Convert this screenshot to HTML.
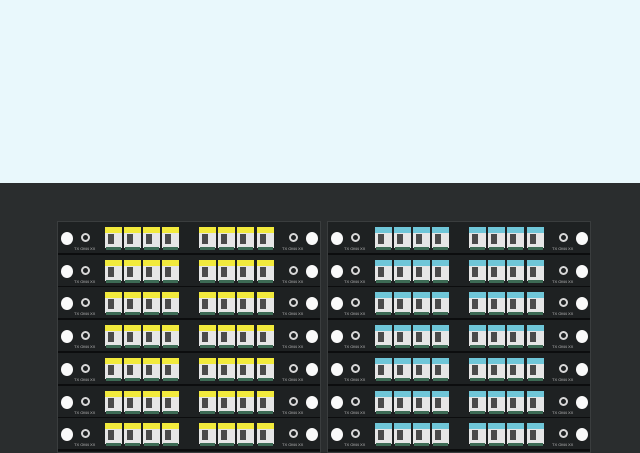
<!DOCTYPE html>
<html><head><style>
html,body{margin:0;padding:0}
body{width:640px;height:441px;overflow:hidden;background:#2a2d2e;position:relative;font-family:"Liberation Sans",sans-serif}
#top{position:absolute;left:0;top:0;width:640px;height:183px;background:#e9f8fc}
.panel{position:absolute;top:221px;width:262px;height:230px;background:#151718;border:1px solid #3a3d3e}
.row{position:absolute;left:0;width:262px;height:31px;background:#1e2122;border-bottom:2px solid #0c0d0e}
.c{position:absolute;width:12px;height:13px;border-radius:50%;background:#fafafa;top:10px}
.r{position:absolute;width:7px;height:7px;border-radius:50%;border:2px solid #d8d8d8;top:11px;box-sizing:border-box;width:9px;height:9px}
.p{position:absolute;top:5px;width:17px;height:21px;background:#e6e6e6}
.p i{position:absolute;left:0;top:0;width:17px;height:6px}
.p b{position:absolute;left:3px;top:7px;width:6px;height:10px;background:#4a4a4a}
.p u{position:absolute;left:1px;top:20px;width:15px;height:3px;background:#3d6b55}
.t{position:absolute;top:24px;font-size:4px;color:#bbb;white-space:nowrap}
</style></head><body>
<div id="top"></div>
<div class="panel" id="L" style="left:57px"></div>
<div class="panel" id="R" style="left:327px"></div>
<script>
function build(id,col){
 var P=document.getElementById(id),h='';
 for(var k=0;k<7;k++){
  h+='<div class="row" style="top:'+(k*32.7)+'px">';
  h+='<div class="c" style="left:3px"></div><div class="r" style="left:23px"></div><div class="t" style="left:16px">TX OM4 XX</div>';
  var xs=[47,66,85,104,141,160,179,199];
  for(var j=0;j<8;j++)h+='<div class="p" style="left:'+xs[j]+'px"><i style="background:'+col+'"></i><b></b><u></u></div>';
  h+='<div class="r" style="left:231px"></div><div class="c" style="left:248px"></div><div class="t" style="left:224px">TX OM4 XX</div>';
  h+='</div>';
 }
 P.innerHTML=h;
}
build('L','#f2ea3c');build('R','#6fc6d8');
</script>
</body></html>
